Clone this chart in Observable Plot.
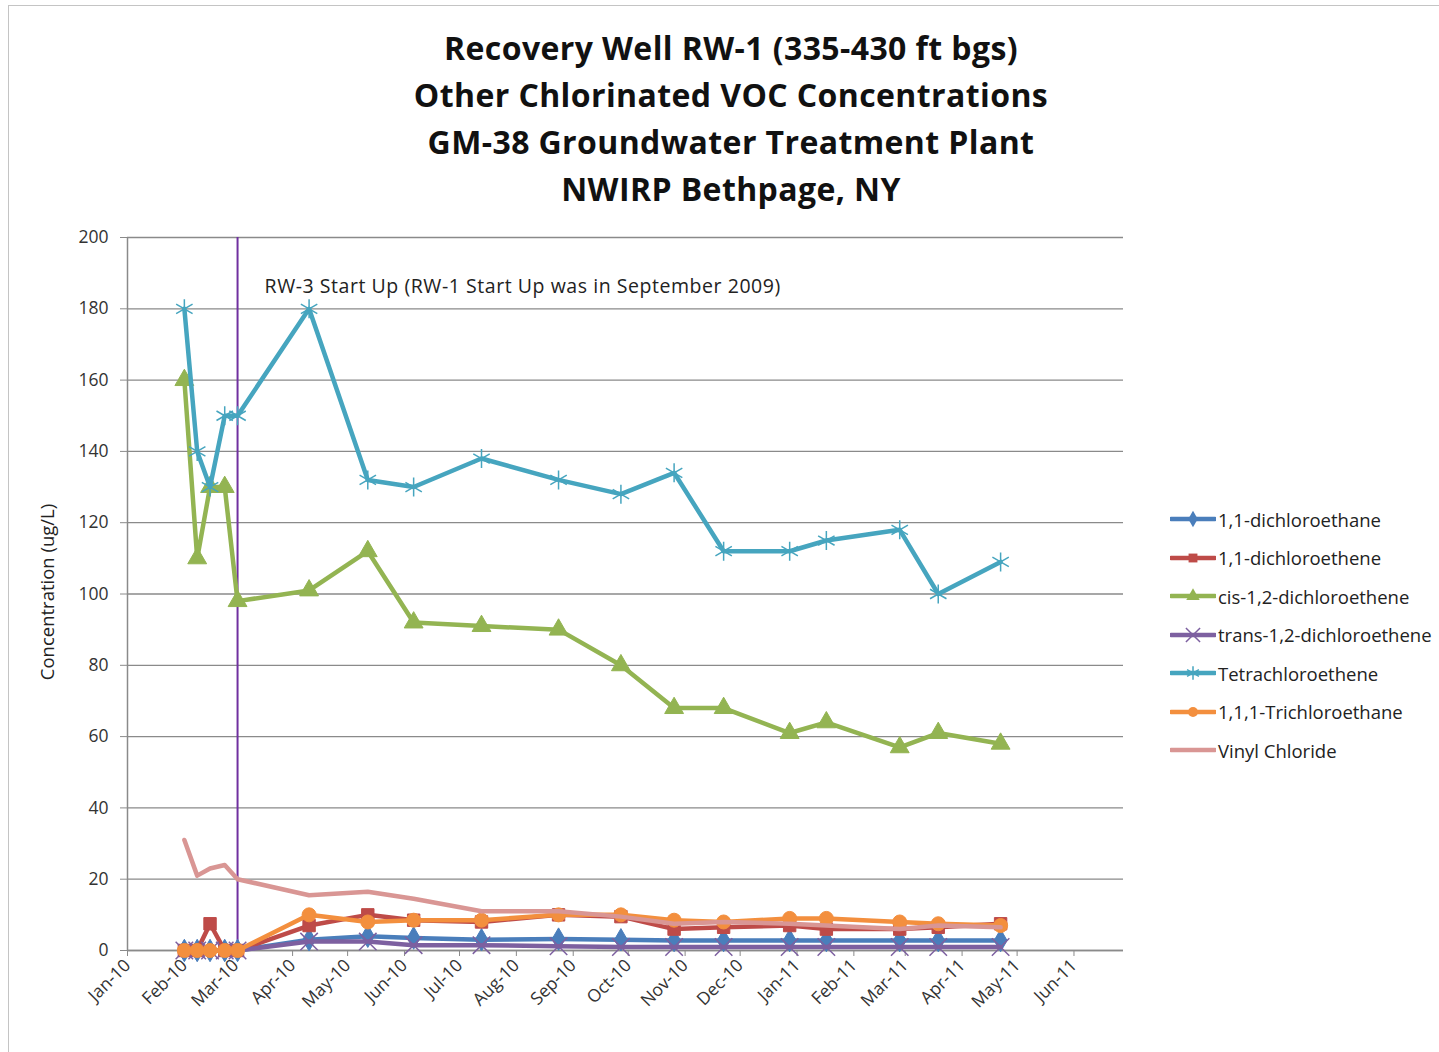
<!DOCTYPE html>
<html>
<head>
<meta charset="utf-8">
<script src="https://cdn.jsdelivr.net/npm/d3@7"></script>
<script src="https://cdn.jsdelivr.net/npm/@observablehq/plot@0.6"></script>
<style>
  html, body { margin: 0; padding: 0; background: #fff; overflow: hidden; }
  #wrap { position: relative; width: 1439px; height: 1052px; font-family: "Open Sans", Lato, sans-serif; }
  #frame { position: absolute; left: 8px; top: 5px; width: 1450px; height: 1070px; border: 1px solid #c4c4c4; box-sizing: border-box; }
  #title { position: absolute; top: 24px; left: 0; width: 1462px; text-align: center; font-weight: 700; font-size: 32px; letter-spacing: 0.4px; line-height: 47px; color: #111; }
  #chart { position: absolute; left: 0; top: 215px; }
  #legend { position: absolute; left: 1170px; top: 500px; font-size: 18.5px; color: #222; }
  .item { position: absolute; left: 0; height: 38px; display: flex; align-items: center; white-space: nowrap; }
  .item svg { margin-right: 2px; }
</style>
</head>
<body>
<div id="wrap">
  <div id="frame"></div>
  <div id="title"></div>
  <div id="chart"></div>
  <div id="legend"></div>
</div>
<script>
// ---- data ----
const titleLines = [
  "Recovery Well RW-1 (335-430 ft bgs)",
  "Other Chlorinated VOC Concentrations",
  "GM-38 Groundwater Treatment Plant",
  "NWIRP Bethpage, NY"
];
const sampleDates = ["2010-02-01","2010-02-08","2010-02-15","2010-02-23","2010-03-02","2010-04-10","2010-05-12","2010-06-06","2010-07-13","2010-08-24","2010-09-27","2010-10-26","2010-11-22","2010-12-28","2011-01-17","2011-02-26","2011-03-19","2011-04-22"];
const dca   = [0,0,0,0,0,3,4,3.5,3,3.2,3,2.8,2.8,2.8,2.8,2.8,2.8,2.8];
const dce   = [0,0,7.5,0,0,7,10,8.5,8,10,9.5,6,6.5,7,6,6,6.5,7.5];
const cis   = [160,110,130,130,98,101,112,92,91,90,80,68,68,61,64,57,61,58];
const trans = [0,0,0,0,0,2.5,2.5,1.5,1.5,1.2,1,1,1,1,1,1,1,1];
const pce   = [180,140,130,150,150,180,132,130,138,132,128,134,112,112,115,118,100,109];
const tca   = [0,0,0,0,0,10,8,8.5,8.5,10,10,8.5,8,9,9,8,7.5,7];
const vc    = [31,21,23,24,20,15.5,16.5,14.5,11,11,9.5,7.5,8,7.5,7,6,7,6.5];
const seriesNames = ["1,1-dichloroethane","1,1-dichloroethene","cis-1,2-dichloroethene","trans-1,2-dichloroethene","Tetrachloroethene","1,1,1-Trichloroethane","Vinyl Chloride"];
const seriesValues = [dca, dce, cis, trans, pce, tca, vc];
const seriesColors = ["#4A7EBB","#BE4B48","#93B452","#7D60A0","#46A5BF","#F38F3E","#D99694"];
const seriesSymbols = ["diamond","square","triangle","times","asterisk","circle",null];
const yTicks = [0,20,40,60,80,100,120,140,160,180,200];
const xStart = "2010-01-01", xEnd = "2011-06-28";
const xTickStart = "2010-01-01", xTickEnd = "2011-06-02";
const startupDate = "2010-03-02";
const annotation = "RW-3 Start Up (RW-1 Start Up was in September 2009)";
const yLabel = "Concentration (ug/L)";

// ---- build ----
document.getElementById("title").innerHTML = titleLines.map(t => `<div>${t}</div>`).join("");
const parse = d3.utcParse("%Y-%m-%d");
const xTicks = d3.utcMonth.range(parse(xTickStart), parse(xTickEnd));
const strokeSym = new Set(["times","asterisk"]);
const symR = {diamond: 6.8, square: 7, triangle: 7, times: 8, asterisk: 9, circle: 7};

const marks = [
  Plot.gridY(yTicks, {stroke: "#8a8a8a", strokeOpacity: 1, strokeWidth: 1.3}),
  Plot.ruleY([0], {stroke: "#8a8a8a", strokeWidth: 1.5}),
  Plot.ruleX([parse(xStart)], {stroke: "#8a8a8a", strokeWidth: 1.5}),
  Plot.axisY(yTicks, {label: null, tickSize: 7, tickPadding: 12, stroke: "#8a8a8a", fill: "#333", fontSize: 17.5}),
  Plot.axisX(xTicks, {label: null, tickSize: 6, tickRotate: -45, tickPadding: 6, stroke: "#8a8a8a", fill: "#333", fontSize: 17.5, tickFormat: d3.utcFormat("%b-%y")}),
  Plot.text([yLabel], {frameAnchor: "left", textAnchor: "middle", rotate: -90, dx: -79, dy: -2, fontSize: 18.5, fill: "#222"}),
  Plot.ruleX([parse(startupDate)], {stroke: "#7030A0", strokeWidth: 2})
];
seriesValues.forEach((vals, i) => {
  const rows = vals.map((v, j) => ({date: parse(sampleDates[j]), value: v}));
  marks.push(Plot.line(rows, {x: "date", y: "value", stroke: seriesColors[i], strokeWidth: 4.5, strokeLinejoin: "round"}));
  const s = seriesSymbols[i];
  if (s) {
    if (strokeSym.has(s)) {
      marks.push(Plot.dot(rows, {x: "date", y: "value", symbol: () => s, r: symR[s], stroke: seriesColors[i], strokeWidth: 1.5, fill: "none"}));
    } else {
      marks.push(Plot.dot(rows, {x: "date", y: "value", symbol: () => s, r: symR[s], fill: seriesColors[i], stroke: seriesColors[i], strokeWidth: 1}));
    }
  }
});
marks.push(Plot.text([annotation], {x: () => parse(startupDate), frameAnchor: "top", textAnchor: "start", dx: 27, dy: 42, fontSize: 19.5, fill: "#222"}));

const chart = Plot.plot({
  width: 1439, height: 837,
  marginLeft: 127, marginRight: 316, marginTop: 22, marginBottom: 102,
  style: {fontFamily: "'Open Sans', Lato, sans-serif", fontSize: "17.5px", background: "transparent", overflow: "visible"},
  x: {type: "utc", domain: [parse(xStart), parse(xEnd)], axis: null},
  y: {domain: [0, 200], axis: null},
  symbol: {type: "identity"},
  marks
});
document.getElementById("chart").appendChild(chart);
// letter spacing for annotation text
chart.querySelectorAll("text").forEach(t => { if (t.textContent === annotation) t.setAttribute("letter-spacing", "0.55"); });

// ---- legend ----
const legend = document.getElementById("legend");
const symMap = {diamond: d3.symbolDiamond, square: d3.symbolSquare, triangle: d3.symbolTriangle, times: d3.symbolTimes, asterisk: d3.symbolAsterisk, circle: d3.symbolCircle};
seriesNames.forEach((name, i) => {
  const div = document.createElement("div");
  div.className = "item";
  div.style.top = (i * 38.5) + "px";
  const s = seriesSymbols[i];
  let sym = "";
  if (s) {
    const rr = strokeSym.has(s) ? 6.5 : 5;
    const path = d3.symbol(symMap[s], Math.PI * rr * rr)();
    sym = strokeSym.has(s)
      ? `<path d="${path}" transform="translate(23,9)" fill="none" stroke="${seriesColors[i]}" stroke-width="1.5"/>`
      : `<path d="${path}" transform="translate(23,9)" fill="${seriesColors[i]}"/>`;
  }
  div.innerHTML = `<svg width="46" height="18"><line x1="1" x2="45" y1="9" y2="9" stroke="${seriesColors[i]}" stroke-width="4.5" stroke-linecap="round"/>${sym}</svg><span>${name}</span>`;
  legend.appendChild(div);
});
</script>
</body>
</html>
